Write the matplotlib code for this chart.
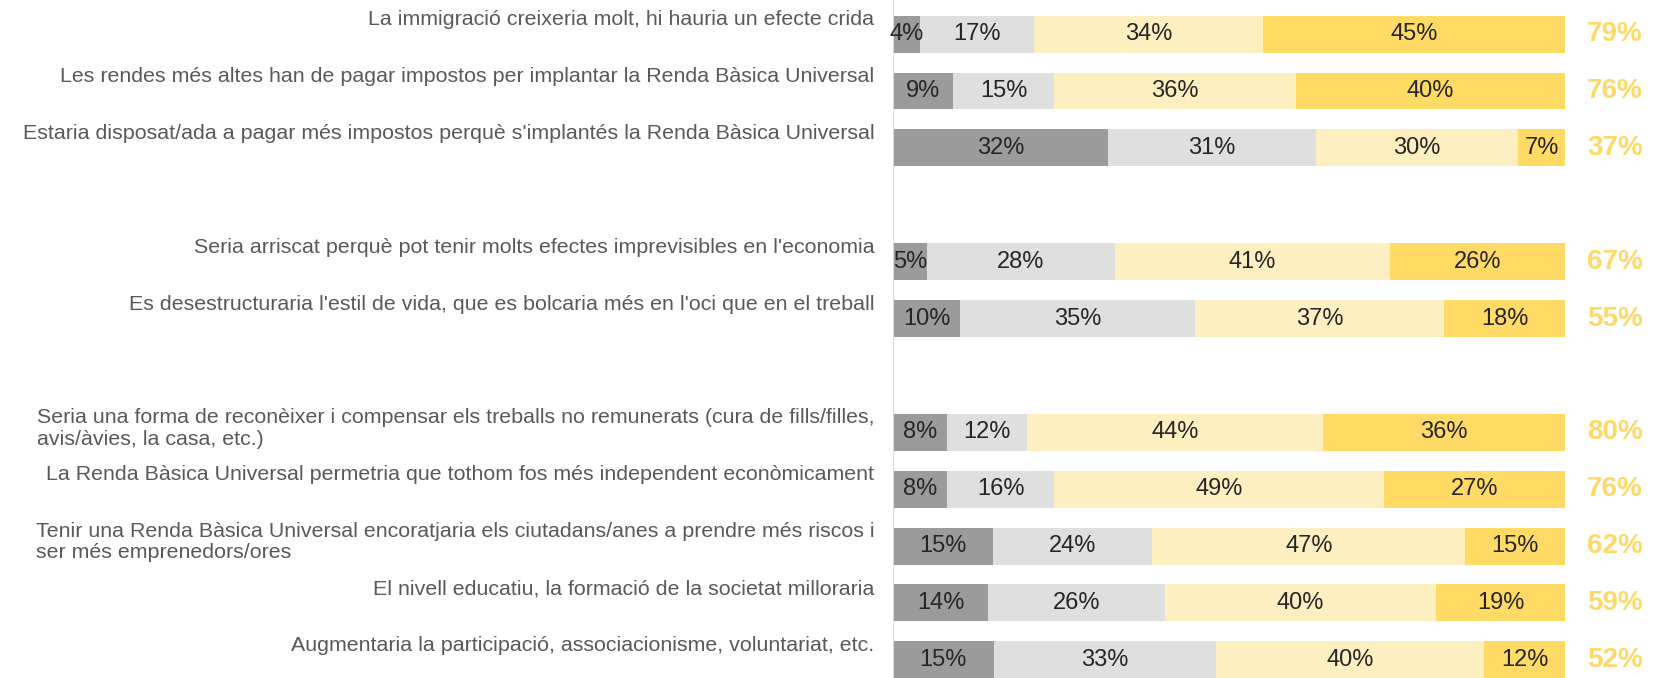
import numpy as np
import matplotlib.pyplot as plt

# statements (top to bottom) and their slot positions (gaps between groups)
labels = [
    "La immigració creixeria molt, hi hauria un efecte crida",
    "Les rendes més altes han de pagar impostos per implantar la Renda Bàsica Universal",
    "Estaria disposat/ada a pagar més impostos perquè s'implantés la Renda Bàsica Universal",
    "Seria arriscat perquè pot tenir molts efectes imprevisibles en l'economia",
    "Es desestructuraria l'estil de vida, que es bolcaria més en l'oci que en el treball",
    "Seria una forma de reconèixer i compensar els treballs no remunerats (cura de fills/filles,\navis/àvies, la casa, etc.)",
    "La Renda Bàsica Universal permetria que tothom fos més independent econòmicament",
    "Tenir una Renda Bàsica Universal encoratjaria els ciutadans/anes a prendre més riscos i\nser més emprenedors/ores",
    "El nivell educatiu, la formació de la societat milloraria",
    "Augmentaria la participació, associacionisme, voluntariat, etc.",
]
slots = [0, 1, 2, 4, 5, 7, 8, 9, 10, 11]

gens_acord = [4, 9, 32, 5, 10, 8, 8, 15, 14, 15]
poc_acord = [17, 15, 31, 28, 35, 12, 16, 24, 26, 33]
bastant_acord = [34, 36, 30, 41, 37, 44, 49, 47, 40, 40]
molt_acord = [45, 40, 7, 26, 18, 36, 27, 15, 19, 12]
totals = [79, 76, 37, 67, 55, 80, 76, 62, 59, 52]

colors = ["#9b9b9b", "#dfdfdf", "#fdefc0", "#ffdb66"]

series = np.array([gens_acord, poc_acord, bastant_acord, molt_acord], dtype=float)
widths = series / series.sum(axis=0) * 100

W, H = 1671, 678
fig = plt.figure(figsize=(W / 100, H / 100), dpi=100)
ax = fig.add_axes([893 / W, 0, 672 / W, 1])

font = "Liberation Sans"
left = np.zeros(len(slots))
for i in range(4):
    ax.barh(slots, widths[i], left=left, height=0.65, color=colors[i], linewidth=0)
    for y, l, w, v in zip(slots, left, widths[i], series[i]):
        ax.text(l + w / 2, y, f"{v:.0f}%", ha="center", va="center",
                fontsize=17, color="#262626", family=font)
    left += widths[i]

for y, lab, t in zip(slots, labels, totals):
    ax.text(-2.8, y - 0.42, lab, ha="right", va="top", multialignment="left",
            fontsize=15.4, color="#595959", family=font,
            linespacing=1.15, clip_on=False)
    ax.text(107.4, y, f"{t}%", ha="center", va="center", fontsize=20,
            fontweight="bold", color="#ffd966", family=font, clip_on=False)

ax.axvline(0, color="#d9d9d9", lw=1.5)
ax.set_xlim(0, 100)
ax.set_ylim(11.32, -0.6)
ax.axis("off")

fig.savefig("out.png", dpi=100)
